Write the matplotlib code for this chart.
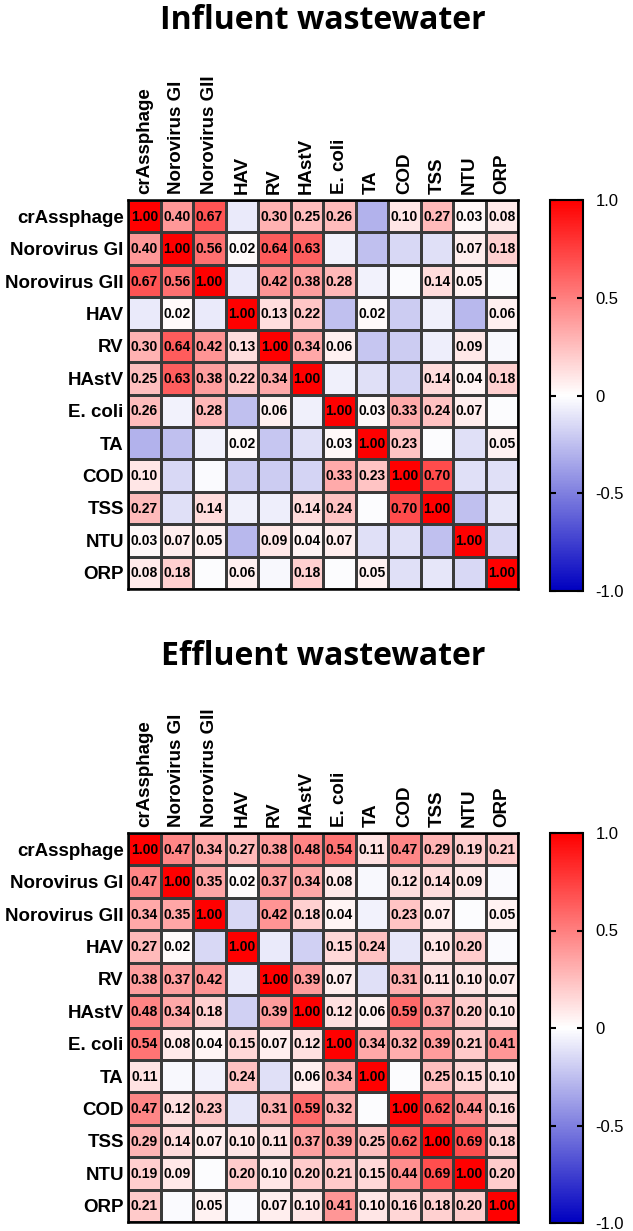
import matplotlib
matplotlib.use('Agg')
import matplotlib.pyplot as plt
import numpy as np
from matplotlib.colors import LinearSegmentedColormap

labels = ['crAssphage', 'Norovirus GI', 'Norovirus GII', 'HAV', 'RV', 'HAstV',
          'E. coli', 'TA', 'COD', 'TSS', 'NTU', 'ORP']

# correlation matrices (negative cells unlabelled, estimated from colour)
influent = [
    [1.00, 0.40, 0.67, -0.08, 0.30, 0.25, 0.26, -0.30, 0.10, 0.27, 0.03, 0.08],
    [0.40, 1.00, 0.56, 0.02, 0.64, 0.63, -0.05, -0.25, -0.15, -0.12, 0.07, 0.18],
    [0.67, 0.56, 1.00, -0.08, 0.42, 0.38, 0.28, -0.05, -0.02, 0.14, 0.05, -0.01],
    [-0.08, 0.02, -0.08, 1.00, 0.13, 0.22, -0.25, 0.02, -0.20, -0.06, -0.28, 0.06],
    [0.30, 0.64, 0.42, 0.13, 1.00, 0.34, 0.06, -0.22, -0.20, -0.07, 0.09, -0.03],
    [0.25, 0.63, 0.38, 0.22, 0.34, 1.00, -0.06, -0.12, -0.17, 0.14, 0.04, 0.18],
    [0.26, -0.05, 0.28, -0.25, 0.06, -0.06, 1.00, 0.03, 0.33, 0.24, 0.07, -0.01],
    [-0.30, -0.25, -0.05, 0.02, -0.22, -0.12, 0.03, 1.00, 0.23, -0.01, -0.12, 0.05],
    [0.10, -0.15, -0.02, -0.20, -0.20, -0.17, 0.33, 0.23, 1.00, 0.70, -0.12, -0.12],
    [0.27, -0.12, 0.14, -0.06, -0.07, 0.14, 0.24, -0.01, 0.70, 1.00, -0.25, -0.10],
    [0.03, 0.07, 0.05, -0.28, 0.09, 0.04, 0.07, -0.12, -0.12, -0.25, 1.00, -0.15],
    [0.08, 0.18, -0.01, 0.06, -0.03, 0.18, -0.01, 0.05, -0.12, -0.10, -0.15, 1.00],
]

effluent = [
    [1.00, 0.47, 0.34, 0.27, 0.38, 0.48, 0.54, 0.11, 0.47, 0.29, 0.19, 0.21],
    [0.47, 1.00, 0.35, 0.02, 0.37, 0.34, 0.08, -0.03, 0.12, 0.14, 0.09, -0.02],
    [0.34, 0.35, 1.00, -0.15, 0.42, 0.18, 0.04, -0.05, 0.23, 0.07, -0.01, 0.05],
    [0.27, 0.02, -0.15, 1.00, -0.08, -0.18, 0.15, 0.24, -0.10, 0.10, 0.20, -0.02],
    [0.38, 0.37, 0.42, -0.08, 1.00, 0.39, 0.07, -0.12, 0.31, 0.11, 0.10, 0.07],
    [0.48, 0.34, 0.18, -0.18, 0.39, 1.00, 0.12, 0.06, 0.59, 0.37, 0.20, 0.10],
    [0.54, 0.08, 0.04, 0.15, 0.07, 0.12, 1.00, 0.34, 0.32, 0.39, 0.21, 0.41],
    [0.11, -0.03, -0.05, 0.24, -0.12, 0.06, 0.34, 1.00, -0.01, 0.25, 0.15, 0.10],
    [0.47, 0.12, 0.23, -0.10, 0.31, 0.59, 0.32, -0.01, 1.00, 0.62, 0.44, 0.16],
    [0.29, 0.14, 0.07, 0.10, 0.11, 0.37, 0.39, 0.25, 0.62, 1.00, 0.69, 0.18],
    [0.19, 0.09, -0.01, 0.20, 0.10, 0.20, 0.21, 0.15, 0.44, 0.69, 1.00, 0.20],
    [0.21, -0.02, 0.05, -0.02, 0.07, 0.10, 0.41, 0.10, 0.16, 0.18, 0.20, 1.00],
]

cbar_ticks = [-1.0, -0.5, 0, 0.5, 1.0]
cbar_ticklabels = ['-1.0', '-0.5', '0', '0.5', '1.0']

cmap = LinearSegmentedColormap.from_list('bwr_prism', ['#0000c0', '#ffffff', '#ff0000'])

W, H = 633, 1231
fig = plt.figure(figsize=(W / 100, H / 100), dpi=100)


def px_rect(x0, y0, x1, y1):
    return [x0 / W, 1 - y1 / H, (x1 - x0) / W, (y1 - y0) / H]


def draw_heatmap(matrix, title, grid_box, cbar_box, title_y):
    data = np.array(matrix)
    n = len(labels)
    ax = fig.add_axes(px_rect(*grid_box))
    mesh = ax.pcolormesh(data, cmap=cmap, vmin=-1, vmax=1,
                         edgecolors='#3a3a3a', linewidth=0.9)
    ax.set_xlim(0, n)
    ax.set_ylim(n, 0)

    for i in range(n):
        for j in range(n):
            v = data[i, j]
            if v > 0:
                ax.text(j + 0.5, i + 0.52, '%.2f' % v, ha='center', va='center',
                        fontsize=10, fontweight='bold', family='Liberation Sans')

    ax.set_xticks(np.arange(n) + 0.5)
    ax.set_yticks(np.arange(n) + 0.5)
    ax.set_xticklabels(labels, rotation=90, fontsize=13.5, fontweight='bold',
                       family='Liberation Sans')
    ax.set_yticklabels(labels, fontsize=13.5, fontweight='bold', family='Liberation Sans')
    ax.xaxis.tick_top()
    ax.tick_params(length=0, pad=3)
    ax.tick_params(axis='x', pad=4)
    for s in ax.spines.values():
        s.set_linewidth(1.8)
        s.set_color('black')

    cax = fig.add_axes(px_rect(*cbar_box))
    cb = fig.colorbar(mesh, cax=cax, ticks=cbar_ticks)
    cb.ax.set_yticklabels(cbar_ticklabels, fontsize=12, family='Liberation Sans')
    cb.outline.set_linewidth(1.5)
    cb.ax.tick_params(direction='in', left=True, right=True, length=4, width=1.5, pad=9)

    fig.text((grid_box[0] + grid_box[2]) / 2 / W, 1 - title_y / H, title,
             ha='center', va='baseline', fontsize=23, fontweight='bold', family='Open Sans')


draw_heatmap(influent, 'Influent wastewater', (128, 200, 518, 589), (550, 200, 583, 591), 29)
draw_heatmap(effluent, 'Effluent wastewater', (128, 833, 518, 1222), (550, 833, 583, 1223), 665)

plt.savefig('out.png', dpi=100)
